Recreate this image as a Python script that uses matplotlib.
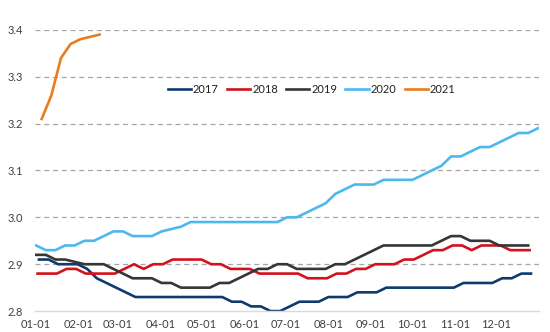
import numpy as np
import matplotlib.pyplot as plt

plt.rcParams['font.family'] = ['Lato', 'DejaVu Sans']

# weekly readings, first observation day of year per series
years = ['2017', '2018', '2019', '2020', '2021']
start_day = {'2017': 2, '2018': 1, '2019': 0, '2020': 0, '2021': 4}

v2017 = [2.91, 2.91, 2.90, 2.90, 2.90, 2.89, 2.87, 2.86, 2.85, 2.84,
         2.83, 2.83, 2.83, 2.83, 2.83, 2.83, 2.83, 2.83, 2.83, 2.83,
         2.82, 2.82, 2.81, 2.81, 2.80, 2.80, 2.81, 2.82, 2.82, 2.82,
         2.83, 2.83, 2.83, 2.84, 2.84, 2.84, 2.85, 2.85, 2.85, 2.85,
         2.85, 2.85, 2.85, 2.85, 2.86, 2.86, 2.86, 2.86, 2.87, 2.87,
         2.88, 2.88]
v2018 = [2.88, 2.88, 2.88, 2.89, 2.89, 2.88, 2.88, 2.88, 2.88, 2.89,
         2.90, 2.89, 2.90, 2.90, 2.91, 2.91, 2.91, 2.91, 2.90, 2.90,
         2.89, 2.89, 2.89, 2.88, 2.88, 2.88, 2.88, 2.88, 2.87, 2.87,
         2.87, 2.88, 2.88, 2.89, 2.89, 2.90, 2.90, 2.90, 2.91, 2.91,
         2.92, 2.93, 2.93, 2.94, 2.94, 2.93, 2.94, 2.94, 2.94, 2.93,
         2.93, 2.93]
v2019 = [2.92, 2.92, 2.91, 2.91, 2.905, 2.90, 2.90, 2.90, 2.89, 2.88,
         2.87, 2.87, 2.87, 2.86, 2.86, 2.85, 2.85, 2.85, 2.85, 2.86,
         2.86, 2.87, 2.88, 2.89, 2.89, 2.90, 2.90, 2.89, 2.89, 2.89,
         2.89, 2.90, 2.90, 2.91, 2.92, 2.93, 2.94, 2.94, 2.94, 2.94,
         2.94, 2.94, 2.95, 2.96, 2.96, 2.95, 2.95, 2.95, 2.94, 2.94,
         2.94, 2.94]
v2020 = [2.94, 2.93, 2.93, 2.94, 2.94, 2.95, 2.95, 2.96, 2.97, 2.97,
         2.96, 2.96, 2.96, 2.97, 2.975, 2.98, 2.99, 2.99, 2.99, 2.99,
         2.99, 2.99, 2.99, 2.99, 2.99, 2.99, 3.00, 3.00, 3.01, 3.02,
         3.03, 3.05, 3.06, 3.07, 3.07, 3.07, 3.08, 3.08, 3.08, 3.08,
         3.09, 3.10, 3.11, 3.13, 3.13, 3.14, 3.15, 3.15, 3.16, 3.17,
         3.18, 3.18, 3.19]
v2021 = [3.21, 3.26, 3.34, 3.37, 3.38, 3.385, 3.39]

values = {'2017': v2017, '2018': v2018, '2019': v2019, '2020': v2020, '2021': v2021}
colors = {'2017': '#0d3b6e', '2018': '#d2121c', '2019': '#363636',
          '2020': '#4db8ee', '2021': '#e97c1f'}

month_days = [0, 31, 59, 90, 120, 151, 181, 212, 243, 273, 304, 334]
month_labels = ['01-01', '02-01', '03-01', '04-01', '05-01', '06-01',
                '07-01', '08-01', '09-01', '10-01', '11-01', '12-01']

fig = plt.figure(figsize=(5.5, 3.32), dpi=100)
ax = fig.add_axes([0.0645, 0.063, 0.916, 0.847])

for y in years:
    vals = values[y]
    x = start_day[y] + 7 * np.arange(len(vals))
    ax.plot(x, vals, color=colors[y], lw=1.9, label=y, solid_joinstyle='round')

ax.set_xlim(-0.5, 365)
ax.set_ylim(2.8, 3.4)
ax.set_yticks(np.arange(2.8, 3.41, 0.1))
ax.set_yticklabels(['%.1f' % t for t in np.arange(2.8, 3.41, 0.1)])
ax.set_xticks(month_days)
ax.set_xticklabels(month_labels)

for g in np.arange(2.9, 3.41, 0.1):
    ax.axhline(g, color='#a6a6a6', lw=0.9, ls=(0, (4, 3)), zorder=0)

for s in ['top', 'right', 'left']:
    ax.spines[s].set_visible(False)
ax.spines['bottom'].set_color('#d9d9d9')
ax.spines['bottom'].set_linewidth(1.0)
ax.tick_params(axis='both', length=0, labelsize=8, colors='#404040')
ax.tick_params(axis='y', pad=9)
ax.tick_params(axis='x', pad=6)

ax.legend(ncol=5, loc='center', bbox_to_anchor=(0.548, 0.787), frameon=False,
          fontsize=8, handlelength=2.1, handletextpad=0.15, columnspacing=0.75,
          labelcolor='#202020')

plt.savefig('out.png', dpi=100)
